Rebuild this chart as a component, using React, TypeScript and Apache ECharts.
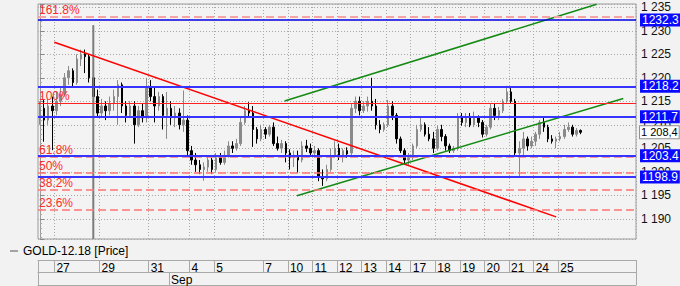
import React, { useEffect, useRef } from "react";
import * as echarts from "echarts";

const seriesName = "GOLD-12.18 [Price]";
const slotCount = 146;

// day label positions (slot index of day start) and labels
const dayStarts = [4, 15, 27, 37, 43, 55, 61, 67, 73, 79, 85, 91, 97, 103, 109, 115, 121, 127];
const dayNames = ["27", "29", "31", "4", "5", "7", "10", "11", "12", "13", "14", "17", "18", "19", "20", "21", "24", "25"];
const monthStarts = [32];
const monthNames = ["Sep"];

// [open, close, low, high]
const ohlc: number[][] = [
  [1212, 1213.5, 1210, 1215], [1213.5, 1211, 1206.4, 1215.5], [1211, 1214, 1210, 1215.5], [1214, 1213, 1204.6, 1216],
  [1213, 1215, 1212, 1217], [1215, 1216.5, 1214, 1218], [1216.5, 1220, 1216, 1221], [1220, 1221.5, 1218.5, 1222.5],
  [1221.5, 1219, 1218, 1222], [1219, 1224, 1218.5, 1225], [1224, 1225, 1222.5, 1226], [1225, 1224.5, 1221, 1226],
  [1224.5, 1220, 1219, 1225], [1220, 1216, 1215, 1221], [1216, 1212.5, 1211.5, 1217.5], [1212.5, 1214, 1211.5, 1215.5],
  [1214, 1213, 1211, 1215], [1213, 1214.5, 1212, 1216], [1214.5, 1216, 1213, 1217.5], [1216, 1218.5, 1210, 1219.5],
  [1218.5, 1214, 1212.5, 1219], [1214, 1212, 1210.5, 1215], [1212, 1214, 1211.5, 1215], [1214, 1210, 1206, 1215],
  [1210, 1213, 1209.5, 1214], [1213, 1211.5, 1210.5, 1214.5], [1211.5, 1218, 1210.5, 1220], [1218, 1216, 1215, 1219.5],
  [1216, 1214, 1210.5, 1218], [1214, 1216, 1213, 1217], [1216, 1212, 1209, 1216.5], [1212, 1213.5, 1207, 1217],
  [1213.5, 1211.5, 1210, 1215], [1211.5, 1212.5, 1209.5, 1214], [1212.5, 1210, 1209, 1213.5], [1210, 1211, 1208.5, 1217.3],
  [1211, 1204.5, 1203.5, 1212], [1204.5, 1202.5, 1201.5, 1205.5], [1202.5, 1201.5, 1200, 1204], [1201.5, 1200.5, 1199.5, 1202.5],
  [1200.5, 1201, 1198.1, 1202], [1201, 1202.5, 1200, 1203.5], [1202.5, 1200.5, 1199.5, 1203], [1200.5, 1203, 1200, 1204],
  [1203, 1202, 1201.5, 1204], [1202, 1203.5, 1201.5, 1204.5], [1203.5, 1205.5, 1203, 1206.5], [1205.5, 1205, 1204, 1206.5],
  [1205, 1206, 1204.5, 1207], [1206, 1210.5, 1205.5, 1211.5], [1210.5, 1213, 1210, 1214], [1213, 1212.5, 1211.5, 1214.8],
  [1212.5, 1209, 1205.3, 1214], [1209, 1207, 1206, 1209.5], [1207, 1209, 1206.5, 1210], [1209, 1208, 1207, 1209.5],
  [1208, 1209.5, 1207.5, 1210], [1209.5, 1206, 1205.5, 1210.5], [1206, 1205, 1204.5, 1207.5], [1205, 1206, 1204, 1206.8],
  [1206, 1204, 1202, 1206.5], [1204, 1203, 1200.5, 1204.8], [1203, 1203.5, 1201, 1204.5], [1203.5, 1202.5, 1199.8, 1204.5],
  [1202.5, 1205.5, 1202, 1206.5], [1205.5, 1205, 1204.2, 1206.8], [1205, 1204, 1203.5, 1206], [1204, 1204.5, 1203, 1205.5],
  [1204.5, 1199, 1198, 1205], [1199, 1198.5, 1197, 1200.5], [1198.5, 1200.5, 1198, 1201.5], [1200.5, 1203.5, 1200, 1205],
  [1203.5, 1205, 1203, 1206.5], [1205, 1203.5, 1202.5, 1206], [1203.5, 1204.5, 1202, 1205], [1204.5, 1203.8, 1203, 1205.2],
  [1204, 1213.5, 1203.5, 1214.5], [1213.5, 1215, 1212.5, 1216], [1215, 1213, 1212, 1216], [1213, 1214, 1212.5, 1215],
  [1214, 1215, 1212.8, 1216], [1215, 1214, 1213, 1220], [1214, 1210, 1209, 1215.5], [1210, 1209, 1208.2, 1211],
  [1209, 1210, 1208.5, 1210.5], [1210, 1214, 1209.5, 1215.3], [1214, 1212, 1211, 1215], [1212, 1207, 1206, 1212.5],
  [1207, 1204.5, 1204, 1207.5], [1204.5, 1202.5, 1201.8, 1205], [1202.5, 1203, 1201.4, 1204], [1203, 1205.5, 1202.5, 1206],
  [1205.5, 1209, 1205, 1210], [1209, 1210, 1208.5, 1211.5], [1210, 1208, 1207.5, 1210.5], [1208, 1207, 1206.5, 1209.5],
  [1207, 1205, 1204, 1208.5], [1205, 1209, 1204.5, 1209.8], [1209, 1207.5, 1206.5, 1210], [1207.5, 1205.5, 1204.5, 1208],
  [1205.5, 1204.5, 1204, 1206], [1204.5, 1205, 1204, 1205.5], [1205, 1211.5, 1204.5, 1212.5], [1211.5, 1210.5, 1209.8, 1212.5],
  [1210.5, 1211.5, 1209.5, 1212.5], [1211.5, 1210, 1209.5, 1212.5], [1210, 1211.5, 1209.5, 1212.8], [1211.5, 1210.5, 1209.5, 1212],
  [1210.5, 1208, 1207.3, 1211], [1208, 1209.5, 1207.5, 1210], [1209.5, 1213.5, 1209, 1214.5], [1213.5, 1212, 1211, 1214.5],
  [1212, 1213, 1211, 1213.8], [1213, 1215, 1212.5, 1215.5], [1215, 1217, 1214.5, 1218.3], [1217, 1215, 1214.5, 1217.8],
  [1215, 1204, 1203.5, 1215.5], [1204, 1205, 1199, 1206.5], [1205, 1207, 1203.5, 1208.5], [1207, 1205.5, 1204.5, 1207.5],
  [1205.5, 1206.5, 1205, 1207.5], [1206.5, 1208, 1205.5, 1208.5], [1208, 1210.5, 1207, 1211], [1210.5, 1209.5, 1208.5, 1211.5],
  [1209.5, 1207, 1206.3, 1210], [1207, 1206.5, 1206, 1207.8], [1206.5, 1207, 1205, 1207.5], [1207, 1207.5, 1206.5, 1208.5],
  [1207.5, 1209, 1207, 1210], [1209, 1209.5, 1208.5, 1210.5], [1209.5, 1208, 1207.5, 1210], [1208, 1208.8, 1207.5, 1209.3],
  [1208.8, 1208.4, 1208, 1209],
];

const levels = [1232.3, 1218.2, 1211.7, 1203.4, 1198.9];
const lastPrice = 1208.4;
const lastPriceText = "1 208,4";

const fibLow = 1184.8;
const fibHigh = 1214.6;
const fibRatios = [1.618, 1.0, 0.618, 0.5, 0.382, 0.236];
const fibNames = ["161.8%", "100%", "61.8%", "50%", "38.2%", "23.6%"];

// trend lines: [slot position, price]
const redTrend = [[3.5, 1227.55], [126, 1190.4]];
const greenUpper = [[59.7, 1215.06], [135.9, 1235.64]];
const greenLower = [[62.7, 1194.9], [142.4, 1215.6]];
const markerLine = [[13, 1231.2], [13, 1185.7]];

const yMin = 1185.7;
const yMax = 1235.7;

const FONT = "'Liberation Sans', Arial, sans-serif";
const FS = 11;

function fmtThousands(v: number): string {
  const r = Math.round(v);
  const th = Math.floor(r / 1000);
  const rest = String(r % 1000).padStart(3, "0");
  return `${th} ${rest}`;
}

export default function App() {
  const ref = useRef<HTMLDivElement>(null);
  useEffect(() => {
    document.body.style.margin = "0";
    if (!ref.current) return;
    const chart = echarts.init(ref.current, undefined, { renderer: "svg" });
    const categories = Array.from({ length: slotCount }, (_, i) => String(i));
    const dayMap = new Map<number, string>();
    dayStarts.forEach((s, i) => dayMap.set(s, dayNames[i]));
    const monthMap = new Map<number, string>();
    monthStarts.forEach((s, i) => monthMap.set(s, monthNames[i]));

    const tableColor = "#a9a9a9";

    const fibData = fibRatios.map((r, i) => {
      const v = fibLow + (fibHigh - fibLow) * r;
      const isMain = r === 1;
      const isExt = r > 1;
      return {
        yAxis: v,
        lineStyle: {
          color: isMain ? "#ff2020" : isExt ? "#f6a3a3" : "#ff7676",
          width: isMain ? 1 : isExt ? 2 : 1.5,
          type: isMain ? "solid" : [8, 4],
        },
        label: {
          show: true,
          formatter: fibNames[i],
          position: "insideStartTop",
          distance: [1, 1],
          color: "#ff2a2a",
          fontSize: 12,
          fontFamily: FONT,
        },
      };
    });

    const levelData = levels.map((v, i) => ({
      yAxis: v,
      lineStyle: { color: i === 0 ? "#0000e0" : "#3535ff", width: i === 0 ? 1.5 : 2, type: "solid" },
      label: {
        show: true,
        position: "end",
        distance: 4,
        formatter: v.toFixed(1),
        color: "#ffffff",
        backgroundColor: "#0a0aff",
        padding: [1, 2, 0, 2],
        fontSize: 12,
        fontFamily: FONT,
      },
    }));

    const lastData = {
      yAxis: lastPrice,
      lineStyle: { color: "rgba(0,0,0,0)", width: 0 },
      label: {
        show: true,
        position: "end",
        distance: 4,
        formatter: lastPriceText,
        color: "#000",
        backgroundColor: "#ffffff",
        borderColor: "#909090",
        borderWidth: 1,
        padding: [1, 1, 0, 1],
        fontSize: FS,
        fontFamily: FONT,
      },
    };

    const option: any = {
      animation: false,
      backgroundColor: "#f2f2f2",
      textStyle: { fontFamily: FONT },
      legend: {
        left: 5,
        top: 240,
        padding: 5,
        itemWidth: 8,
        itemHeight: 1,
        itemGap: 5,
        textStyle: { fontSize: 12, color: "#000", fontFamily: FONT },
        data: [{ name: seriesName, icon: "rect", itemStyle: { color: "#555", borderWidth: 0 } }],
      },
      grid: {
        left: 38,
        right: 44,
        top: 4,
        bottom: 47,
        show: true,
        backgroundColor: "#f3f3f3",
        borderColor: "#9c9c9c",
        borderWidth: 1,
      },
      xAxis: [
        {
          type: "category",
          data: categories,
          boundaryGap: true,
          position: "bottom",
          axisLine: { show: false },
          axisTick: { show: false },
          axisLabel: { show: false },
          splitLine: {
            show: true,
            interval: (i: number) => dayMap.has(i),
            lineStyle: { color: "#a8a8a8", type: [1, 2], width: 1 },
          },
        },
        {
          type: "value",
          min: -0.5,
          max: slotCount - 0.5,
          show: false,
          position: "top",
        },
        {
          type: "category",
          data: categories,
          boundaryGap: true,
          position: "bottom",
          offset: 21,
          axisLine: { show: true, lineStyle: { color: tableColor, width: 1 } },
          axisTick: {
            show: true,
            length: 12,
            interval: (i: number) => i === 0 || dayMap.has(i),
            lineStyle: { color: tableColor },
          },
          axisLabel: {
            show: true,
            interval: (i: number) => dayMap.has(i),
            formatter: (_v: string, i: number) => dayMap.get(i) ?? "",
            align: "left",
            margin: 2,
            fontSize: 12,
            color: "#000",
            fontFamily: FONT,
          },
          splitLine: { show: false },
        },
        {
          type: "category",
          data: categories,
          boundaryGap: true,
          position: "bottom",
          offset: 33,
          axisLine: { show: true, lineStyle: { color: tableColor, width: 1 } },
          axisTick: {
            show: true,
            length: 13,
            interval: (i: number) => i === 0 || monthMap.has(i),
            lineStyle: { color: tableColor },
          },
          axisLabel: {
            show: true,
            interval: (i: number) => monthMap.has(i),
            formatter: (_v: string, i: number) => monthMap.get(i) ?? "",
            align: "left",
            margin: 2,
            fontSize: 12,
            color: "#000",
            fontFamily: FONT,
          },
          splitLine: { show: false },
        },
        {
          type: "category",
          data: categories,
          boundaryGap: true,
          position: "bottom",
          offset: 46,
          axisLine: { show: true, lineStyle: { color: tableColor, width: 1 } },
          axisTick: { show: false },
          axisLabel: { show: false },
          splitLine: { show: false },
        },
      ],
      yAxis: [
        {
          type: "value",
          position: "right",
          min: yMin,
          max: yMax,
          splitNumber: 10,
          axisLine: { show: true, lineStyle: { color: "#9c9c9c" } },
          axisTick: { show: true, length: 4, lineStyle: { color: "#888" } },
          minorTick: { show: true, splitNumber: 5, length: 2, lineStyle: { color: "#aaa" } },
          splitLine: { show: true, lineStyle: { color: "#a8a8a8", type: [1, 2] } },
          axisLabel: {
            showMinLabel: false,
            showMaxLabel: false,
            margin: 5,
            fontSize: 12,
            color: "#111",
            fontFamily: FONT,
            formatter: (v: number) => fmtThousands(v),
          },
        },
      ],
      series: [
        {
          type: "candlestick",
          name: seriesName,
          xAxisIndex: 0,
          yAxisIndex: 0,
          data: ohlc,
          barWidth: 2,
          itemStyle: {
            color: "#8a8a8a",
            color0: "#000000",
            borderColor: "#8a8a8a",
            borderColor0: "#000000",
            borderWidth: 1,
          },
          markLine: {
            silent: true,
            symbol: ["none", "none"],
            data: [...fibData, ...levelData, lastData],
          },
        },
        {
          type: "line",
          name: "marker",
          xAxisIndex: 1,
          yAxisIndex: 0,
          data: markerLine,
          symbol: "none",
          silent: true,
          lineStyle: { color: "#7c7c7c", width: 2 },
        },
        {
          type: "line",
          name: "redTrend",
          xAxisIndex: 1,
          yAxisIndex: 0,
          data: redTrend,
          symbol: "none",
          silent: true,
          lineStyle: { color: "#ff0000", width: 1.5 },
        },
        {
          type: "line",
          name: "greenUpper",
          xAxisIndex: 1,
          yAxisIndex: 0,
          data: greenUpper,
          symbol: "none",
          silent: true,
          lineStyle: { color: "#138a13", width: 1.5 },
        },
        {
          type: "line",
          name: "greenLower",
          xAxisIndex: 1,
          yAxisIndex: 0,
          data: greenLower,
          symbol: "none",
          silent: true,
          lineStyle: { color: "#138a13", width: 1.5 },
        },
      ],
    };
    chart.setOption(option);
    return () => chart.dispose();
  }, []);
  return <div ref={ref} style={{ width: 680, height: 286, background: "#f2f2f2" }} />;
}
